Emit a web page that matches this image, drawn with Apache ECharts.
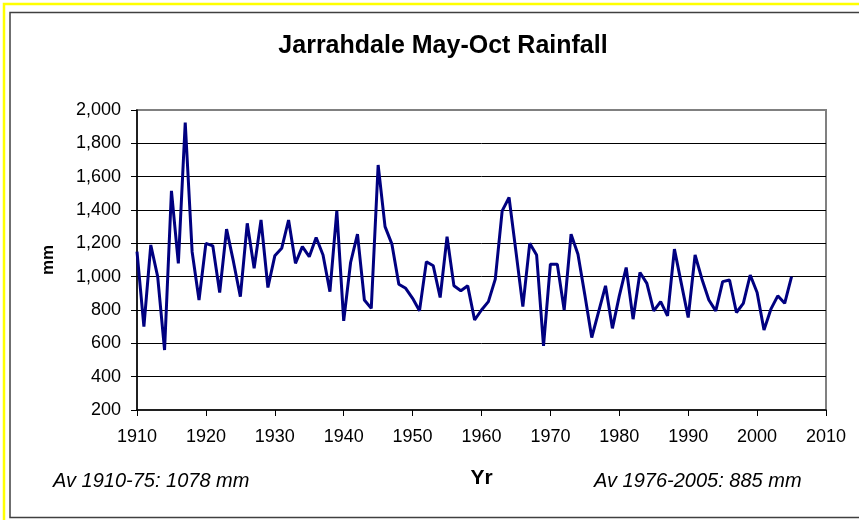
<!DOCTYPE html>
<html>
<head>
<meta charset="utf-8">
<title>Jarrahdale May-Oct Rainfall</title>
<script src="https://cdn.jsdelivr.net/npm/echarts@6/dist/echarts.min.js"></script>
<style>
    html, body { margin: 0; padding: 0; background: #fff; }
    #container { width: 859px; height: 520px; }
</style>
</head>
<body>
<div id="container"></div>
<script>
// years 1910 - 2005
var years = [
    1910, 1911, 1912, 1913, 1914, 1915, 1916, 1917, 1918, 1919,
    1920, 1921, 1922, 1923, 1924, 1925, 1926, 1927, 1928, 1929,
    1930, 1931, 1932, 1933, 1934, 1935, 1936, 1937, 1938, 1939,
    1940, 1941, 1942, 1943, 1944, 1945, 1946, 1947, 1948, 1949,
    1950, 1951, 1952, 1953, 1954, 1955, 1956, 1957, 1958, 1959,
    1960, 1961, 1962, 1963, 1964, 1965, 1966, 1967, 1968, 1969,
    1970, 1971, 1972, 1973, 1974, 1975, 1976, 1977, 1978, 1979,
    1980, 1981, 1982, 1983, 1984, 1985, 1986, 1987, 1988, 1989,
    1990, 1991, 1992, 1993, 1994, 1995, 1996, 1997, 1998, 1999,
    2000, 2001, 2002, 2003, 2004, 2005
];
// May-Oct rainfall, mm
var rainfall = [
    1150, 700, 1190, 1000, 560, 1515, 1080, 1925, 1150, 860,
    1200, 1185, 905, 1285, 1090, 880, 1320, 1050, 1340, 935,
    1125, 1170, 1340, 1080, 1180, 1120, 1235, 1130, 910, 1395,
    735, 1085, 1255, 860, 810, 1670, 1300, 1195, 955, 930,
    870, 795, 1090, 1065, 875, 1240, 945, 915, 945, 740,
    800, 850, 985, 1395, 1475, 1150, 820, 1200, 1130, 585,
    1075, 1075, 800, 1255, 1135, 890, 635, 790, 945, 690,
    885, 1055, 745, 1025, 960, 795, 850, 765, 1165, 960,
    755, 1130, 985, 860, 795, 970, 980, 785, 840, 1010,
    905, 680, 805, 885, 840, 1000
];
var notes = ['Av 1910-75: 1078 mm', 'Av 1976-2005: 885 mm'];

var fontFam = "Arial, 'Liberation Sans', sans-serif";

var lineData = [];
for (var i = 0; i < years.length; i++) {
    lineData.push([years[i], rainfall[i]]);
}

var dom = document.getElementById("container");
var myChart = echarts.init(dom, null, { renderer: 'canvas' });

var option = {
    backgroundColor: '#fff',
    animation: false,
    title: {
        text: 'Jarrahdale May-Oct Rainfall',
        left: 443,
        top: 34,
        padding: 0,
        textAlign: 'center',
        textStyle: { fontFamily: fontFam, fontSize: 25, fontWeight: 'bold', color: '#000' }
    },
    grid: {
        left: 137,
        right: 33,
        top: 110,
        bottom: 110,
        show: true,
        backgroundColor: '#fff',
        borderColor: '#808080',
        borderWidth: 2
    },
    xAxis: {
        type: 'value',
        min: 1910,
        max: 2010,
        interval: 10,
        name: 'Yr',
        nameLocation: 'middle',
        nameGap: 58,
        nameTextStyle: { fontFamily: fontFam, fontSize: 21, fontWeight: 'bold', color: '#000' },
        axisLine: { show: true, lineStyle: { color: '#000', width: 1.5 } },
        axisTick: { show: true, inside: false, length: 6, lineStyle: { color: '#000' } },
        axisLabel: {
            margin: 18,
            fontFamily: fontFam,
            fontSize: 18,
            color: '#000',
            formatter: function (v) { return String(v); }
        },
        splitLine: { show: false }
    },
    yAxis: {
        type: 'value',
        min: 200,
        max: 2000,
        interval: 200,
        name: 'mm',
        nameLocation: 'middle',
        nameRotate: 90,
        nameGap: 80,
        nameTextStyle: { fontFamily: fontFam, fontSize: 17, fontWeight: 'bold', color: '#000' },
        axisLine: { show: true, lineStyle: { color: '#000', width: 1.5 } },
        axisTick: { show: true, inside: false, length: 6, lineStyle: { color: '#000' } },
        axisLabel: {
            margin: 16,
            fontFamily: fontFam,
            fontSize: 18,
            color: '#000',
            formatter: function (v) { return v.toLocaleString('en-US'); }
        },
        splitLine: {
            show: true,
            showMinLine: false,
            showMaxLine: false,
            lineStyle: { color: '#000', width: 1 }
        }
    },
    graphic: [
        // yellow outer frame
        {
            type: 'rect',
            shape: { x: 4, y: 4, width: 900, height: 600 },
            style: { fill: null, stroke: '#ffff00', lineWidth: 2.5 },
            silent: true
        },
        // chart area frame
        {
            type: 'rect',
            shape: { x: 10, y: 12.5, width: 900, height: 505 },
            style: { fill: null, stroke: '#404040', lineWidth: 1.5 },
            silent: true
        },
        {
            type: 'text',
            left: 53,
            top: 471,
            style: { text: notes[0], fontFamily: fontFam, fontSize: 20, fontStyle: 'italic', fill: '#000' }
        },
        {
            type: 'text',
            left: 594,
            top: 471,
            style: { text: notes[1], fontFamily: fontFam, fontSize: 20, fontStyle: 'italic', fill: '#000' }
        }
    ],
    series: [
        {
            name: 'Rainfall',
            type: 'line',
            data: lineData,
            showSymbol: false,
            symbol: 'none',
            lineStyle: { color: '#000080', width: 3 },
            itemStyle: { color: '#000080' }
        }
    ]
};

if (option && typeof option === "object") {
    myChart.setOption(option, true);
}
</script>
</body>
</html>
